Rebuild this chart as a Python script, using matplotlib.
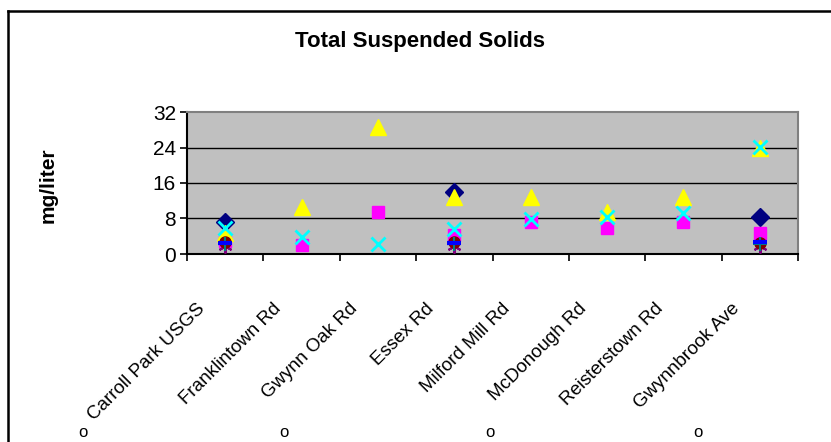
import matplotlib
matplotlib.use("Agg")
import matplotlib.pyplot as plt
import matplotlib.transforms as mtransforms
from matplotlib.lines import Line2D
import numpy as np

plt.rcParams['font.family'] = ['Liberation Sans', 'DejaVu Sans']

nan = np.nan
sites = ["Carroll Park USGS", "Franklintown Rd", "Gwynn Oak Rd", "Essex Rd",
         "Milford Mill Rd", "McDonough Rd", "Reisterstown Rd", "Gwynnbrook Ave"]

# mg/liter, one list per sampling series
series1 = [7.2, nan, nan, 14.0, nan, nan, nan, 8.4]
series2 = [3.0, 2.0, 9.5, 4.3, 7.2, 5.9, 7.2, 4.7]
series3 = [4.7, 10.6, 28.6, 12.8, 12.8, 9.5, 12.8, 24.0]
series4 = [5.8, 3.8, 2.3, 5.6, 7.9, 8.3, 9.2, 24.1]
series5 = [1.8, nan, nan, 1.8, nan, nan, nan, 1.8]
series6 = [2.7, nan, nan, 2.7, nan, nan, nan, 2.5]
series7 = [2.2, nan, nan, 2.2, nan, nan, nan, 2.2]
series8 = [2.4, nan, nan, 2.4, nan, nan, nan, 2.6]
yticks = [0, 8, 16, 24, 32]

W, H = 831, 442
fig = plt.figure(figsize=(W / 100, H / 100), dpi=100)
ax = fig.add_axes([187 / W, 1 - 254 / H, (798 - 187) / W, (254 - 112) / H])
ax.set_facecolor('#C0C0C0')

x = np.arange(len(sites)) + 0.5
styles = [
    (series1, dict(marker='D', color='#000080', ms=9)),
    (series2, dict(marker='s', color='#FF00FF', ms=9)),
    (series3, dict(marker='^', color='#FFFF00', ms=12)),
    (series4, dict(marker='x', color='#00FFFF', ms=10.5, mew=2)),
    (series5, dict(marker=(6, 2, 0), color='#800080', ms=10, mew=1.5)),
    (series6, dict(marker='o', color='#800000', ms=8)),
    (series7, dict(marker='+', color='#008080', ms=10, mew=1.5)),
    (series8, dict(marker='_', color='#0000FF', ms=10, mew=3)),
]
for vals, st in styles:
    ax.plot(x, vals, linestyle='none', zorder=3, **st)

ax.set_xlim(0, len(sites))
ax.set_ylim(0, 32)
ax.set_yticks(yticks)
ax.set_xticks(np.arange(len(sites) + 1))
ax.set_xticklabels([])
for v in yticks[1:-1]:
    ax.axhline(v, color='black', lw=1, zorder=1)

ax.tick_params(axis='y', labelsize=15, length=5, width=1.2, direction='out', pad=3)
ax.tick_params(axis='x', length=5, width=1.2, direction='out')
for s in ['left', 'bottom']:
    ax.spines[s].set_linewidth(1.5)
    ax.spines[s].set_color('black')
for s in ['top', 'right']:
    ax.spines[s].set_linewidth(1.5)
    ax.spines[s].set_color('#808080')

# rotated category labels
off = mtransforms.ScaledTranslation(-29 / 100, -46 / 100, fig.dpi_scale_trans)
trans = mtransforms.blended_transform_factory(ax.transData, ax.transAxes) + off
for xi, name in zip(x, sites):
    ax.text(xi, 0, name, transform=trans, rotation=45, ha='right', va='top',
            rotation_mode='anchor', fontsize=13.5)

fig.text(420 / W, 1 - 42 / H, "Total Suspended Solids", ha='center', va='center',
         fontsize=16, fontweight='bold')
fig.text(48 / W, 1 - 185 / H, "mg/liter", ha='center', va='center', rotation=90,
         fontsize=15, fontweight='bold')

# small marks along the bottom edge
for px in [83, 284, 490, 698]:
    fig.text(px / W, 1 - 440 / H, "o", ha='center', va='bottom', fontsize=12)

# chart frame
fig.add_artist(Line2D([8 / W, 8 / W], [0, 1 - 11 / H], color='black', lw=1.8,
                      transform=fig.transFigure))
fig.add_artist(Line2D([8 / W, 1], [1 - 11 / H, 1 - 11 / H], color='black', lw=1.8,
                      transform=fig.transFigure))

fig.savefig("out.png", dpi=100)
